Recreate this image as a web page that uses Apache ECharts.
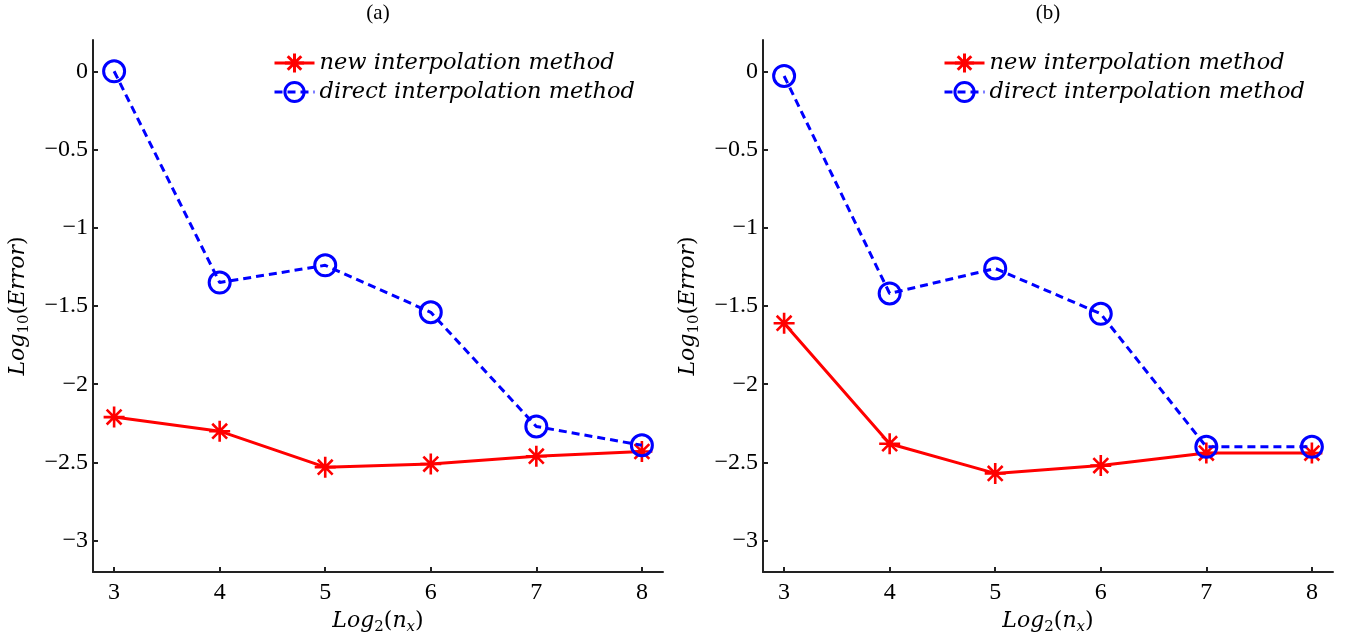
<!DOCTYPE html>
<html>
<head>
<meta charset="utf-8">
<script src="https://cdn.jsdelivr.net/npm/echarts@6/dist/echarts.min.js"></script>
<style>
  html, body { margin: 0; padding: 0; background: #fff; }
  #chart { width: 1350px; height: 642px; }
</style>
</head>
<body>
<div id="chart"></div>
<script>
// Grid sizes n_x = 2^k, plotted as log2(n_x)
const log2nx = [3, 4, 5, 6, 7, 8];

// Panel (a): log10 of the error
const newA = [-2.21, -2.30, -2.53, -2.51, -2.46, -2.43];
const directA = [0.00, -1.35, -1.24, -1.54, -2.27, -2.39];

// Panel (b): log10 of the error
const newB = [-1.61, -2.38, -2.57, -2.52, -2.44, -2.44];
const directB = [-0.03, -1.42, -1.26, -1.55, -2.40, -2.40];

const xTicks = [3, 4, 5, 6, 7, 8];
const yTicks = [-3, -2.5, -2, -1.5, -1, -0.5, 0];
const panelTitles = ['(a)', '(b)'];
const seriesNames = ['new interpolation method', 'direct interpolation method'];

const FONT = 'Liberation Serif';
const IFONT = 'DejaVu Serif';
const STAR = 'path://M0 -10 L0 10 M-10 0 L10 0 M-7.07 -7.07 L7.07 7.07 M-7.07 7.07 L7.07 -7.07';

function pair(xs, ys) { return xs.map((x, i) => [x, ys[i]]); }
function fmtNum(v) { return String(v).replace('-', '\u2212'); }

const nameRich = {
  i: { fontFamily: IFONT, fontStyle: 'italic', fontSize: 22, lineHeight: 27, color: '#000' },
  r: { fontFamily: IFONT, fontSize: 22, lineHeight: 27, color: '#000' },
  s: { fontFamily: IFONT, fontSize: 15, lineHeight: 15, verticalAlign: 'bottom', color: '#000' },
  si: { fontFamily: IFONT, fontStyle: 'italic', fontSize: 15, lineHeight: 15, verticalAlign: 'bottom', color: '#000' }
};

const axisLineStyle = { color: '#222', width: 2 };

function makeX(gi) {
  return {
    type: 'value', gridIndex: gi, min: 2.8, max: 8.2,
    axisLine: { show: true, onZero: false, lineStyle: axisLineStyle },
    axisTick: { show: true, inside: true, length: 5, lineStyle: axisLineStyle, customValues: xTicks },
    axisLabel: { fontFamily: FONT, fontSize: 24, color: '#000', margin: 9, customValues: xTicks, formatter: fmtNum },
    splitLine: { show: false },
    name: '{i|Log}{s|2}{r|(}{i|n}{si|x}{r|)}',
    nameLocation: 'middle', nameGap: 33,
    nameTextStyle: { rich: nameRich }
  };
}
function makeY(gi) {
  return {
    type: 'value', gridIndex: gi, min: -3.2, max: 0.2,
    axisLine: { show: true, onZero: false, lineStyle: axisLineStyle },
    axisTick: { show: true, inside: true, length: 5, lineStyle: axisLineStyle, customValues: yTicks },
    axisLabel: { fontFamily: FONT, fontSize: 24, color: '#000', margin: 5, customValues: yTicks, formatter: fmtNum },
    splitLine: { show: false },
    name: '{i|Log}{s|10}{r|(}{i|Error}{r|)}',
    nameLocation: 'middle', nameGap: 61, nameRotate: 90,
    nameTextStyle: { rich: nameRich }
  };
}

function newSeries(gi, ys) {
  return {
    name: seriesNames[0], type: 'line', xAxisIndex: gi, yAxisIndex: gi,
    data: pair(log2nx, ys),
    symbol: STAR, symbolSize: 21,
    lineStyle: { color: '#ff0000', width: 3 },
    itemStyle: { color: 'rgba(0,0,0,0)', borderColor: '#ff0000', borderWidth: 2.6 },
    emphasis: { disabled: true }, animation: false, z: 2
  };
}
function directSeries(gi, ys) {
  return {
    name: seriesNames[1], type: 'line', xAxisIndex: gi, yAxisIndex: gi,
    data: pair(log2nx, ys),
    symbol: 'circle', symbolSize: 21,
    lineStyle: { color: '#0000ff', width: 3, type: [8, 5] },
    itemStyle: { color: 'rgba(0,0,0,0)', borderColor: '#0000ff', borderWidth: 3 },
    emphasis: { disabled: true }, animation: false, z: 3
  };
}

function makeLegend(left) {
  return {
    left: left, top: 51, orient: 'vertical', padding: 0,
    itemWidth: 40, itemHeight: 24, itemGap: 5,
    selectedMode: false,
    data: seriesNames,
    lineStyle: { width: 3 },
    itemStyle: { borderWidth: 3 },
    textStyle: { fontFamily: IFONT, fontStyle: 'italic', fontSize: 22.5, lineHeight: 24, color: '#000' }
  };
}

const chart = echarts.init(document.getElementById('chart'), null, { renderer: 'canvas' });
chart.setOption({
  backgroundColor: '#fff',
  animation: false,
  grid: [
    { left: 93, top: 40, width: 570, height: 532 },
    { left: 763, top: 40, width: 570, height: 532 }
  ],
  xAxis: [makeX(0), makeX(1)],
  yAxis: [makeY(0), makeY(1)],
  legend: [makeLegend(273), makeLegend(943)],
  graphic: [
    { type: 'text', x: 378, y: 13, style: { text: panelTitles[0], font: '21px "Liberation Serif"', align: 'center', verticalAlign: 'middle', fill: '#000' } },
    { type: 'text', x: 1048, y: 13, style: { text: panelTitles[1], font: '21px "Liberation Serif"', align: 'center', verticalAlign: 'middle', fill: '#000' } }
  ],
  series: [newSeries(0, newA), directSeries(0, directA), newSeries(1, newB), directSeries(1, directB)]
});
</script>
</body>
</html>
